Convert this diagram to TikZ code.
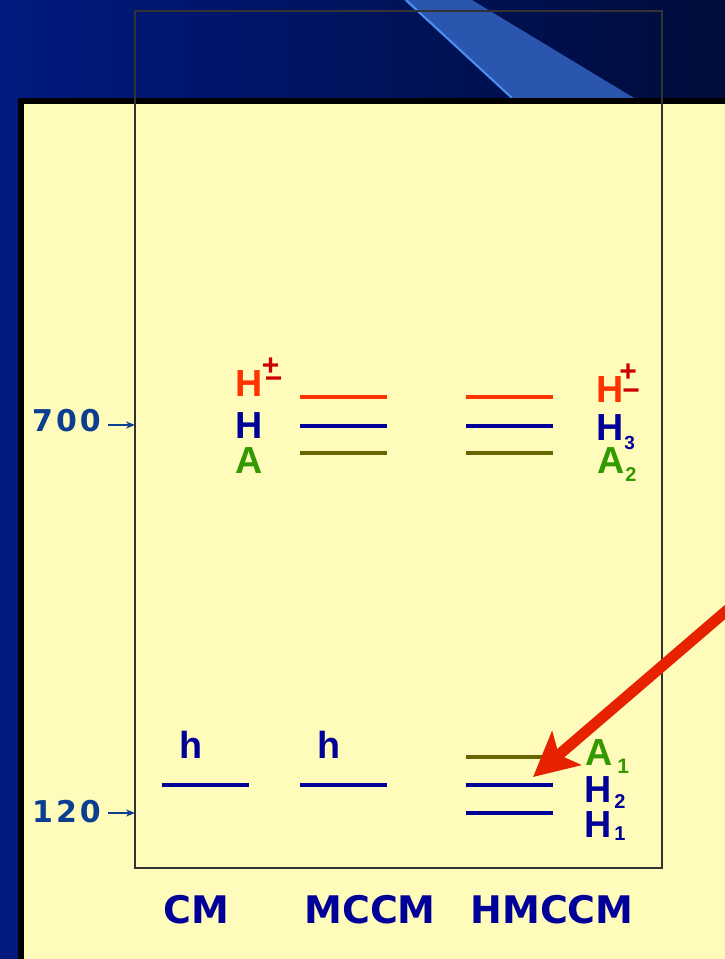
\documentclass[tikz,border=0pt]{standalone}
\usepackage{fontspec}
\setmainfont{Liberation Sans}
\newfontfamily\wideface{DejaVu Sans}
\usepackage{tikz}
\usetikzlibrary{arrows.meta,positioning,calc}
\definecolor{bgleft}{HTML}{001A80}
\definecolor{bgright}{HTML}{000C3A}
\definecolor{bandblue}{HTML}{2A56B0}
\definecolor{bandedge}{HTML}{4A90F0}
\definecolor{panelyellow}{HTML}{FFFBBB}
\definecolor{lvlred}{HTML}{FF3300}
\definecolor{lvlblue}{HTML}{000099}
\definecolor{lvlolive}{HTML}{666600}
\definecolor{lvlgreen}{HTML}{339900}
\definecolor{signred}{HTML}{CC0000}
\definecolor{numblue}{HTML}{0B3D91}
\definecolor{ptrred}{HTML}{E62200}
\tikzset{
  levelline/.style={line width=4.5pt},
  lvllabel/.style={inner sep=0pt,anchor=base,font=\fontsize{37.7}{40}\selectfont\bfseries},
  hlabel/.style={lvllabel,text=lvlblue},
  modelname/.style={inner sep=0pt,anchor=base,text=lvlblue,
                    font=\wideface\fontsize{38}{40}\selectfont\bfseries},
  axisnum/.style={inner sep=0pt,anchor=base east,text=numblue,
                  font=\wideface\fontsize{30}{32}\selectfont\bfseries},
  tickarrow/.style={-{Stealth[length=9pt,width=7pt]},line width=1.5pt,draw=numblue},
  pointerarrow/.style={-{Stealth[length=44pt,width=44pt,inset=10pt]},line width=11pt,draw=ptrred},
}
% #1 kern before the signs, #2 raise of the minus
\newcommand{\pmsign}[2]{\kern#1{\color{signred}\fontsize{30}{32}\selectfont\rlap{\raisebox{21pt}{+}}\kern3pt\raisebox{#2}{\char"2212}}}
% #1 kern, #2 raise, #3 size, #4 digit
\newcommand{\lowidx}[4]{\kern#1\raisebox{#2}{\fontsize{#3}{#3}\selectfont #4}}

\begin{document}
\begin{tikzpicture}[x=1pt,y=-1pt]
  \useasboundingbox (0,0) rectangle (725,959);
  % backdrop
  \shade[left color=bgleft,right color=bgright] (0,0) rectangle (725,959);
  \fill[bandblue] (404,0) -- (472,0) -- (634,98) -- (511,98) -- cycle;
  \draw[bandedge,line width=2pt] (406,0) -- (512,98);
  \filldraw[fill=panelyellow,draw=black,line width=6pt] (21,101) rectangle (760,990);
  \draw[black!80,line width=1.5pt] (135,11) rectangle (662,868);

  % upper levels
  \foreach \yy/\cc in {397/lvlred,426/lvlblue,453/lvlolive}{
    \draw[levelline,\cc] (300,\yy) -- (387,\yy);
    \draw[levelline,\cc] (466,\yy) -- (553,\yy);
  }
  % lower levels
  \draw[levelline,lvlblue] (162,785) -- (249,785);
  \draw[levelline,lvlblue] (300,785) -- (387,785);
  \draw[levelline,lvlolive] (466,757) -- (553,757);
  \draw[levelline,lvlblue] (466,785) -- (553,785);
  \draw[levelline,lvlblue] (466,813) -- (553,813);

  % labels left of MCCM
  \node[lvllabel,text=lvlred,anchor=base west] (hpmL) at (235.5,396) {H\pmsign{-1pt}{7.5pt}};
  \node[hlabel] (hL) at (249,438) {H};
  \node[lvllabel,text=lvlgreen] (aL) at (249,473) {A};
  \node[hlabel] (hcm) at (191,758) {h};
  \node[hlabel] (hmccm) at (329,758) {h};

  % labels right of HMCCM
  \node[lvllabel,text=lvlred,anchor=base west] (hpmR) at (596,402) {H\pmsign{-4pt}{2pt}};
  \node[hlabel,anchor=base west] (h3) at (596,440) {H\lowidx{1pt}{-9pt}{19}{3}};
  \node[lvllabel,text=lvlgreen,anchor=base west] (a2) at (597,473) {A\lowidx{1pt}{-8pt}{20}{2}};
  \node[lvllabel,text=lvlgreen,anchor=base west] (a1) at (585,765) {A\lowidx{5pt}{-8pt}{21}{1}};
  \node[hlabel,anchor=base west] (h2) at (584,802) {H\lowidx{3pt}{-6pt}{20}{2}};
  \node[hlabel,anchor=base west] (h1) at (584,837) {H\lowidx{3pt}{-3pt}{20}{1}};

  % energy scale
  \node[axisnum] (n700) at (101,431) {7\kern3pt0\kern3pt0};
  \node[axisnum] (n120) at (101,822) {1\kern3pt2\kern3pt0};
  \coordinate (t700) at (135,425);
  \coordinate (t120) at (135,813);
  \draw[tickarrow] (n700.east |- t700) ++(7,0) -- (t700);
  \draw[tickarrow] (n120.east |- t120) ++(7,0) -- (t120);

  % model names
  \node[modelname] (cm) at (196,923) {CM};
  \node[modelname] (mccm) at (370,923) {MCCM};
  \node[modelname] (hmccm) at (552,923) {HMCCM};

  % pointer
  \coordinate (ptrstart) at (760,582);
  \coordinate (ptrtip) at (533,777);
  \draw[pointerarrow] (ptrstart) -- (ptrtip);
\end{tikzpicture}
\end{document}
